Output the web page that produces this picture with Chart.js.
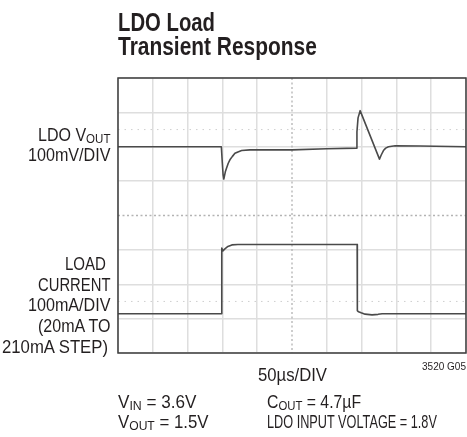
<!DOCTYPE html>
<html>
<head>
<meta charset="utf-8">
<script src="https://cdn.jsdelivr.net/npm/chart.js@4.4.1/dist/chart.umd.min.js"></script>
<style>
  html, body { margin: 0; padding: 0; background: #fff; }
  #wrap {
    position: relative; width: 467px; height: 437px; overflow: hidden;
    font-family: 'Liberation Sans', Arial, sans-serif;
    color: #231f20;
  }
  #chart { position: absolute; left: 0; top: 0; }
  .txt { position: absolute; white-space: nowrap; transform-origin: 0 0; }
  .txt sub { font-size: 0.72em; vertical-align: -0.12em; line-height: 0; }
</style>
</head>
<body>
<div id="wrap">
  <canvas id="chart" width="467" height="437"></canvas>
</div>
<script>
// Oscilloscope capture: 50us/DIV, 10 divisions across
const timeMin = 0;
const timeMax = 500;
const timeStepUs = 50;

// LDO VOUT, deviation from the resting level (mV), 100mV/DIV
const voutTimeUs = [0, 148.5, 149.6, 151, 152, 154.2, 156, 158.4, 160.8, 164.4, 168, 172.3, 177.6, 189.6, 218, 250, 300, 343,
                    343.3, 344.9, 347.9, 375.7, 378.2, 381.4, 384.6, 388.6, 398.3, 434, 500];
const voutMv     = [0, 0, -38, -82, -94, -73, -62, -48, -38, -28, -19, -15, -11, -9, -9, -9, -6, -4,
                    43, 84, 105, -36, -24, -11, -4, 0, 3, 2, 0];

// load current (mA), 100mA/DIV, 20mA to 210mA step
const loadTimeUs = [0, 148.8, 149.1, 150.7, 153.6, 157.9, 163.6, 172.3, 343.6, 343.9, 345.7, 349.3, 355, 365, 373.7, 379.5, 500];
const loadMa     = [14, 14, 205, 197, 203, 210, 214.5, 215.5, 215.5, 22.7, 20, 17, 13, 11, 12.5, 14, 14];

// screen divisions (8 vertical) and the two dotted cursor levels
const divMin = 0;
const divMax = 8;
const centreTime = 250;
const centreDiv = 4;
const cursorDivs = [6.5, 1.5];

const toXY = (xs, ys) => xs.map((x, i) => ({ x: x, y: ys[i] }));

const gridColor = '#dedede';
const traceColor = '#4a4a4a';

const scopeMarks = {
  id: 'scopeMarks',
  beforeDatasetsDraw(chart) {
    const { ctx, chartArea: a, scales } = chart;
    const x = scales.x, y = scales.y;
    ctx.save();
    // cursor lines
    ctx.strokeStyle = '#cfcfcf';
    ctx.lineWidth = 1;
    ctx.setLineDash([1.5, 5]);
    cursorDivs.forEach(v => {
      const py = y.getPixelForValue(v);
      ctx.beginPath(); ctx.moveTo(a.left, py); ctx.lineTo(a.right, py); ctx.stroke();
    });
    // centre cross
    ctx.strokeStyle = '#b3b3b3';
    ctx.lineWidth = 1.3;
    ctx.setLineDash([2, 2.5]);
    const cx = x.getPixelForValue(centreTime);
    const cy = y.getPixelForValue(centreDiv);
    ctx.beginPath(); ctx.moveTo(cx, a.top); ctx.lineTo(cx, a.bottom); ctx.stroke();
    ctx.beginPath(); ctx.moveTo(a.left, cy); ctx.lineTo(a.right, cy); ctx.stroke();
    ctx.restore();
  },
  afterDraw(chart) {
    const { ctx, chartArea: a } = chart;
    ctx.save();
    ctx.strokeStyle = '#3d3d3d';
    ctx.lineWidth = 1.5;
    ctx.strokeRect(a.left, a.top, a.right - a.left, a.bottom - a.top);
    ctx.restore();
  }
};

const hideCentre = centre => c => (c.tick && c.tick.value === centre ? 'rgba(0,0,0,0)' : gridColor);

new Chart(document.getElementById('chart').getContext('2d'), {
  type: 'line',
  data: {
    datasets: [
      {
        label: 'LDO VOUT',
        data: toXY(voutTimeUs, voutMv),
        yAxisID: 'yV',
        borderColor: traceColor,
        borderWidth: 1.6,
        borderJoinStyle: 'round',
        tension: 0,
        pointRadius: 0,
        fill: false
      },
      {
        label: 'Load current',
        data: toXY(loadTimeUs, loadMa),
        yAxisID: 'yI',
        borderColor: traceColor,
        borderWidth: 1.6,
        borderJoinStyle: 'round',
        tension: 0,
        pointRadius: 0,
        fill: false
      }
    ]
  },
  options: {
    responsive: false,
    animation: false,
    devicePixelRatio: 1,
    layout: { padding: { left: 118, top: 78, right: 1, bottom: 84 } },
    plugins: { legend: { display: false }, tooltip: { enabled: false } },
    scales: {
      x: {
        type: 'linear', min: timeMin, max: timeMax,
        ticks: { display: false, stepSize: timeStepUs },
        grid: { color: hideCentre(centreTime), lineWidth: 1.5, drawTicks: false },
        border: { display: false }
      },
      y: {
        type: 'linear', min: divMin, max: divMax,
        ticks: { display: false, stepSize: 1 },
        grid: { color: hideCentre(centreDiv), lineWidth: 1.5, drawTicks: false },
        border: { display: false }
      },
      yV: { type: 'linear', display: false, min: -600, max: 200 },
      yI: { type: 'linear', display: false, min: -100, max: 700 }
    }
  },
  plugins: [scopeMarks]
});

// annotation text: anchor x, baseline, font size, target width, alignment
const texts = [
  { html: 'LDO Load', x: 118, base: 30.7, size: 26, w: 97, bold: true },
  { html: 'Transient Response', x: 118, base: 55, size: 26, w: 199, bold: true },
  { html: 'LDO V<sub>OUT</sub>', x: 110, base: 141.7, size: 17.5, w: 72.5, align: 'right' },
  { html: '100mV/DIV', x: 110, base: 161.7, size: 17.5, w: 82.5, align: 'right' },
  { html: 'LOAD', x: 106, base: 270.7, size: 17.5, w: 41, align: 'right' },
  { html: 'CURRENT', x: 110, base: 291.7, size: 17.5, w: 72.5, align: 'right' },
  { html: '100mA/DIV', x: 110, base: 312.3, size: 17.5, w: 82.5, align: 'right' },
  { html: '(20mA TO', x: 110, base: 333, size: 17.5, w: 72.5, align: 'right' },
  { html: '210mA STEP)', x: 108, base: 354, size: 17.5, w: 106, align: 'right' },
  { html: '50\u00b5s/DIV', x: 292, base: 381.7, size: 18.5, w: 69, align: 'center' },
  { html: '3520 G05', x: 466, base: 370, size: 10, w: 44, align: 'right' },
  { html: 'V<sub>IN</sub> = 3.6V', x: 118.3, base: 408.3, size: 18.5, w: 78.5 },
  { html: 'V<sub>OUT</sub> = 1.5V', x: 118.3, base: 429, size: 18.5, w: 90.5 },
  { html: 'C<sub>OUT</sub> = 4.7\u00b5F', x: 267.3, base: 408.3, size: 18.5, w: 94 },
  { html: 'LDO INPUT VOLTAGE = 1.8V', x: 267.3, base: 429, size: 18.5, w: 170 }
];

const wrap = document.getElementById('wrap');
texts.forEach(t => {
  const el = document.createElement('div');
  el.className = 'txt';
  el.innerHTML = t.html;
  el.style.fontSize = t.size + 'px';
  el.style.lineHeight = t.size + 'px';
  if (t.bold) el.style.fontWeight = 'bold';
  wrap.appendChild(el);
  const natural = el.getBoundingClientRect().width;
  const sx = t.w / natural;
  el.style.transform = 'scaleX(' + sx.toFixed(3) + ')';
  let left = t.x;
  if (t.align === 'right') left = t.x - t.w;
  if (t.align === 'center') left = t.x - t.w / 2;
  el.style.left = left + 'px';
  el.style.top = (t.base - 0.8465 * t.size) + 'px';
});
</script>
</body>
</html>
